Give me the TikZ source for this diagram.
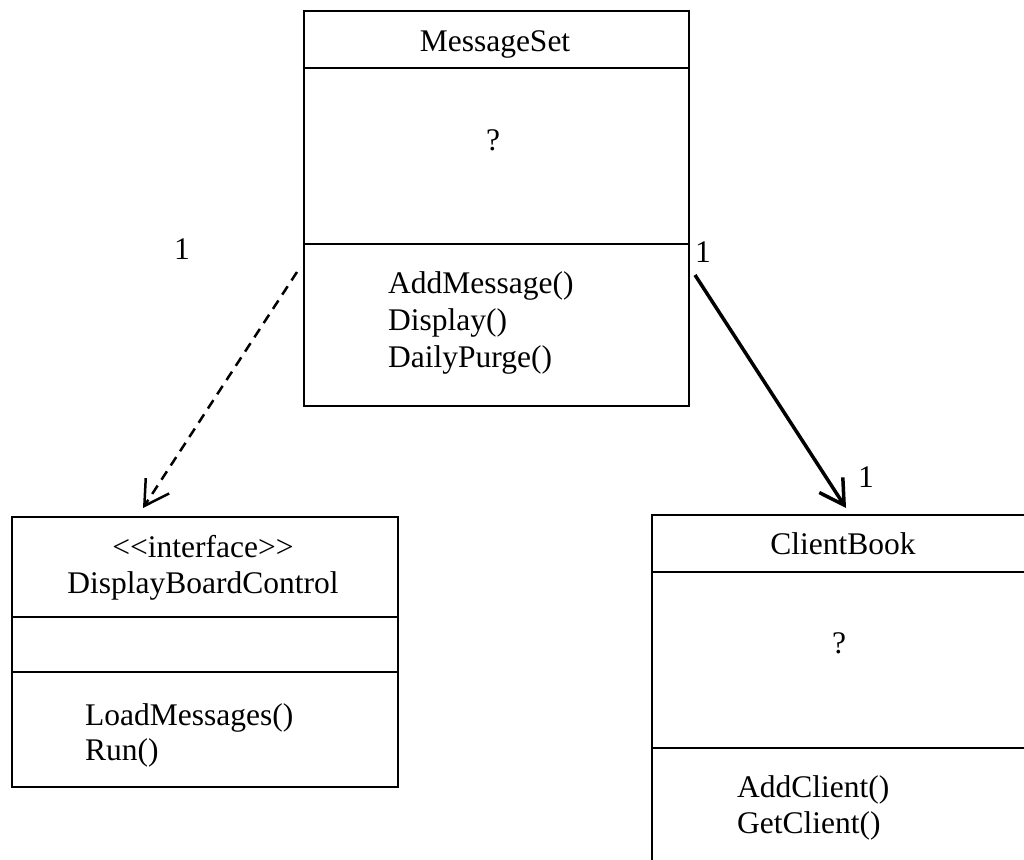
\documentclass[tikz,border=0pt]{standalone}
\usepackage{fontspec}
\setmainfont{Liberation Serif}
\usetikzlibrary{arrows.meta,calc}
\begin{document}
\begin{tikzpicture}[x=1pt,y=-1pt,
  umlbox/.style={draw,line width=2pt,rectangle,anchor=north west,inner sep=0pt},
  divider/.style={line width=2pt},
  lbl/.style={font=\fontsize{31.5}{37}\selectfont,inner sep=0pt,anchor=base},
  mth/.style={font=\fontsize{31.5}{37}\selectfont,inner sep=0pt,anchor=base west},
  dep/.style={line width=2.5pt,dash pattern=on 10pt off 7pt,-{Straight Barb[length=24pt,width=28pt,line width=2.5pt]}},
  assoc/.style={line width=3.5pt,-{Straight Barb[length=24pt,width=28pt,line width=3.5pt]}}]
\useasboundingbox (0,0) rectangle (1024,859);
\clip (0,0) rectangle (1024,859);
\fill[white] (0,0) rectangle (1024,859);
% MessageSet
\node[umlbox,minimum width=385.3pt,minimum height=394.7pt] (ms) at (302.7,10) {};
\draw[divider] (302.7,68) -- (688,68);
\draw[divider] (302.7,244) -- (688,244);
\node[lbl] (msname) at (495,52) {MessageSet};
\node[lbl] (msattr) at (493,150) {?};
\node[mth] (m1) at (388,293) {AddMessage()};
\node[mth] (m2) at (388,330) {Display()};
\node[mth] (m3) at (388,367) {DailyPurge()};
% DisplayBoardControl
\node[umlbox,minimum width=386pt,minimum height=270pt] (dbc) at (11,516) {};
\draw[divider] (11,617) -- (397,617);
\draw[divider] (11,672) -- (397,672);
\node[lbl] (dster) at (203,557) {<{}<interface>{}>};
\node[lbl] (dname) at (203,593) {DisplayBoardControl};
\node[mth] (d1) at (85,725) {LoadMessages()};
\node[mth] (d2) at (85,760) {Run()};
% ClientBook
\node[umlbox,minimum width=390pt,minimum height=370pt] (cb) at (651,514) {};
\draw[divider] (651,572) -- (1041,572);
\draw[divider] (651,748) -- (1041,748);
\node[lbl] (cbname) at (843,554) {ClientBook};
\node[lbl] (cbattr) at (839,653) {?};
\node[mth] (c1) at (737,797) {AddClient()};
\node[mth] (c2) at (737,833) {GetClient()};
% connectors
\coordinate (ds) at ($(ms.north west)+(-5.7,262)$);
\coordinate (de) at ($(dbc.north west)+(132,-8)$);
\coordinate (as) at ($(ms.north east)+(5,265)$);
\coordinate (ae) at ($(cb.north west)+(195,-6)$);
\draw[dep] (ds) -- (de);
\draw[assoc] (as) -- (ae);
% multiplicities
\node[lbl] (n1) at (182,259) {1};
\node[lbl] (n2) at (703,262) {1};
\node[lbl] (n3) at (866,487) {1};
\end{tikzpicture}
\end{document}
